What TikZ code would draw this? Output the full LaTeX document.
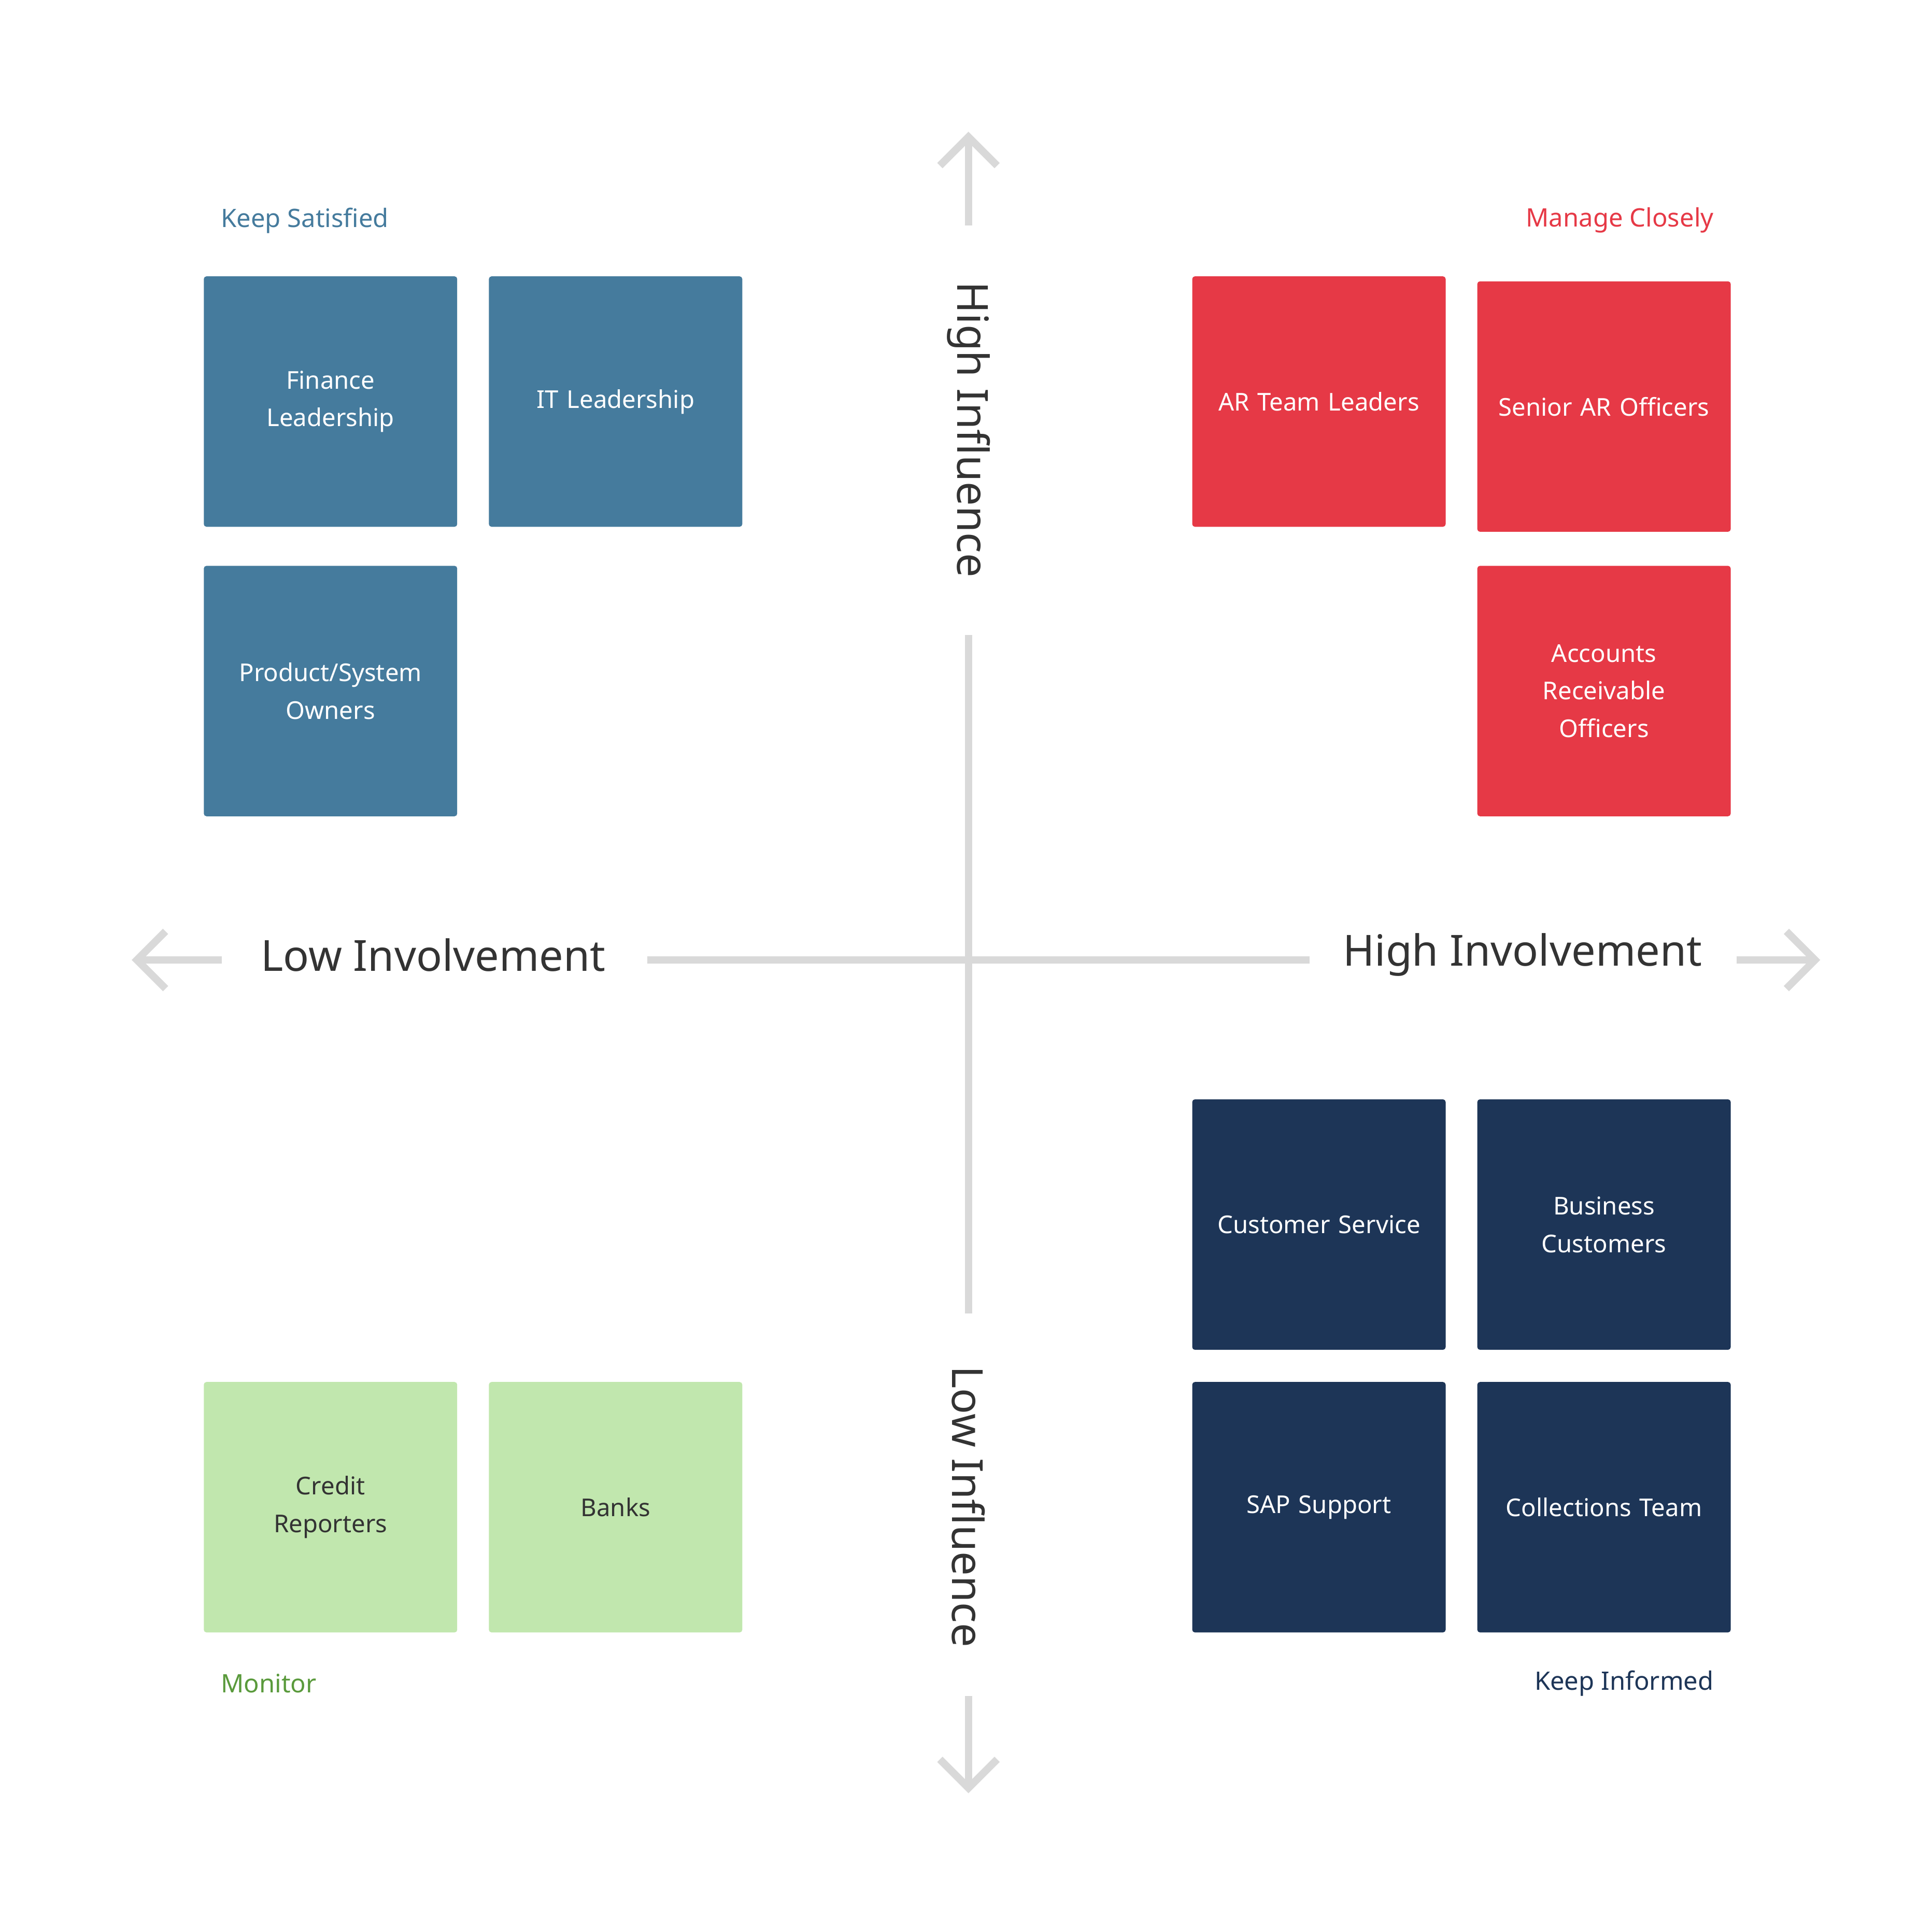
\documentclass[tikz,border=0pt]{standalone}
\usepackage{fontspec}
\setmainfont{Noto Sans}
\definecolor{cblue}{HTML}{457B9D}
\definecolor{cred}{HTML}{E63946}
\definecolor{cnavy}{HTML}{1D3557}
\definecolor{cgreen}{HTML}{C1E7AE}
\definecolor{cgtext}{HTML}{5A9A3C}
\definecolor{caxis}{HTML}{D9D9D9}
\definecolor{ctext}{HTML}{333333}
\begin{document}
\begin{tikzpicture}[x=0.01cm,y=-0.01cm,
 box/.style={minimum width=2.01cm,minimum height=2.01cm,rounded corners=0.6pt,align=center,font=\fontsize{5.6}{8.6}\selectfont,text width=1.8cm},
 bb/.style={box,fill=cblue,text=white},
 rb/.style={box,fill=cred,text=white},
 nb/.style={box,fill=cnavy,text=white},
 gb/.style={box,fill=cgreen,text=ctext},
 ax/.style={draw=caxis,line width=1.7pt},
 head/.style={font=\fontsize{5.8}{7}\selectfont\bfseries},
 axl/.style={font=\fontsize{9.8}{12}\selectfont,text=ctext}]
\useasboundingbox (0,0) rectangle (1552,1532);
% boxes
\node[bb] (fin) at (265.5,322.5) {Finance\\Leadership};
\node[bb] (itl) at (494.5,322.5) {IT Leadership};
\node[bb] (pso) at (265.5,555) {Product/System\\Owners};
\node[rb] (art) at (1059.5,322.5) {AR Team Leaders};
\node[rb] (sar) at (1288.5,326.5) {Senior AR Officers};
\node[rb] (aro) at (1288.5,555) {Accounts\\Receivable\\Officers};
\node[nb] (cs) at (1059.5,983.5) {Customer Service};
\node[nb] (bc) at (1288.5,983.5) {Business\\Customers};
\node[nb] (sap) at (1059.5,1210.5) {SAP Support};
\node[nb] (ct) at (1288.5,1210.5) {Collections Team};
\node[gb] (cr) at (265.5,1210.5) {Credit\\Reporters};
\node[gb] (bk) at (494.5,1210.5) {Banks};
% headings
\node[head,text=cblue,anchor=west] (ks) at (165,177) {Keep Satisfied};
\node[head,text=cred,anchor=east] (mc) at (1389,177) {Manage Closely};
\node[head,text=cgtext,anchor=west] (mo) at (165,1352) {Monitor};
\node[head,text=cnavy,anchor=east] (ki) at (1389,1352) {Keep Informed};
% axis labels
\node[axl,rotate=-90] (hi) at (778,345) {High Influence};
\node[axl,rotate=-90] (li) at (778,1210) {Low Influence};
\node[axl] (lo) at (348,767) {Low Involvement};
\node[axl] (hv) at (1223,767) {High Involvement};
% axes
\coordinate (vt) at (778,510); \coordinate (vb) at (778,1055);
\coordinate (hl) at (520,771); \coordinate (hr) at (1052,771);
\draw[ax] (vt) -- (vb);
\draw[ax] (hl) -- (hr);
% arrows
\coordinate (ua) at (778,181); \coordinate (ub) at (778,110);
\draw[ax] (ua) -- (ub);
\draw[ax,line join=miter] (755,133) -- (ub) -- (801,133);
\coordinate (da) at (778,1362); \coordinate (db) at (778,1436);
\draw[ax] (da) -- (db);
\draw[ax] (755,1413) -- (db) -- (801,1413);
\coordinate (la) at (178,771); \coordinate (lb) at (110,771);
\draw[ax] (la) -- (lb);
\draw[ax] (133,748) -- (lb) -- (133,794);
\coordinate (ra) at (1395,771); \coordinate (rb) at (1458,771);
\draw[ax] (ra) -- (rb);
\draw[ax] (1435,748) -- (rb) -- (1435,794);
\end{tikzpicture}
\end{document}
